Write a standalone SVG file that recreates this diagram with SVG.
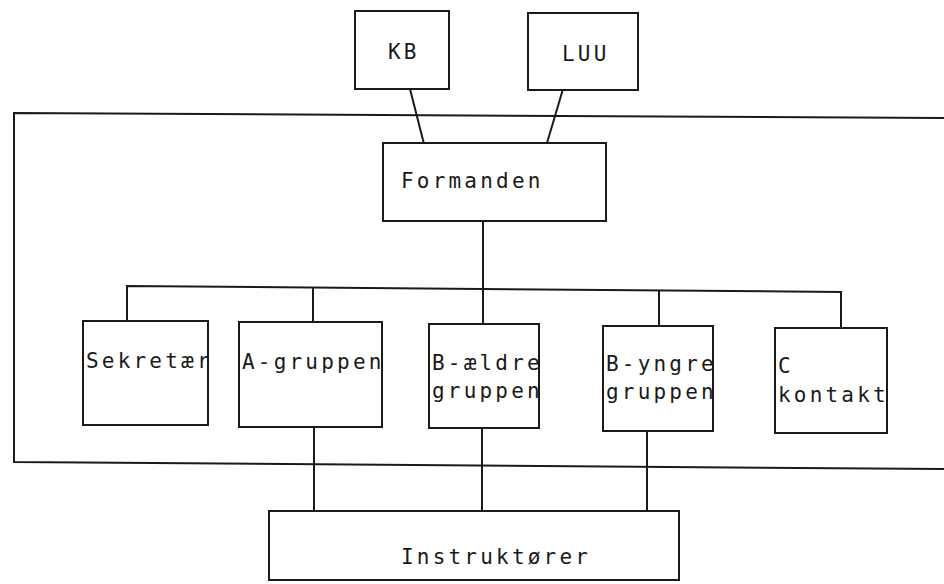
<svg xmlns="http://www.w3.org/2000/svg" width="944" height="584" viewBox="0 0 944 584">
<style>
.b{fill:#fff;stroke:#1a1a1a;stroke-width:2}
.c{fill:none;stroke:#1a1a1a;stroke-width:2}
text{font-family:"DejaVu Sans Mono","Liberation Mono",monospace;font-size:21px;letter-spacing:3.2px;fill:#1a1a1a}
</style>
<rect width="944" height="584" fill="#fff"/>
<g id="frame">
<polyline class="c" points="944,118 14,113 14,462 944,469"/>
</g>
<g id="connectors">
<line class="c" x1="410" y1="89" x2="424" y2="144"/>
<line class="c" x1="563" y1="89" x2="547" y2="143"/>
<line class="c" x1="483" y1="221" x2="483" y2="324"/>
<polyline class="c" points="127,321 127,286 841,292 841,328"/>
<line class="c" x1="313" y1="287" x2="313" y2="322"/>
<line class="c" x1="659" y1="291" x2="659" y2="326"/>
<line class="c" x1="314" y1="427" x2="314" y2="511"/>
<line class="c" x1="482" y1="428" x2="482" y2="513"/>
<line class="c" x1="647" y1="431" x2="647" y2="515"/>
</g>
<g id="kb">
<rect class="b" x="355" y="11" width="94" height="78"/>
<text x="388" y="59">KB</text>
</g>
<g id="luu">
<rect class="b" x="528" y="13" width="110" height="77"/>
<text x="562" y="61">LUU</text>
</g>
<g id="formanden">
<rect class="b" x="383" y="143" width="223" height="78"/>
<text x="401" y="188">Formanden</text>
</g>
<g id="sekretaer">
<rect class="b" x="83" y="321" width="125" height="104"/>
<text x="86" y="368">Sekretær</text>
</g>
<g id="a-gruppen">
<rect class="b" x="239" y="322" width="143" height="105"/>
<text x="242" y="369">A-gruppen</text>
</g>
<g id="b-aeldre">
<rect class="b" x="429" y="324" width="110" height="104"/>
<text x="432" y="370">B-ældre</text>
<text x="432" y="398">gruppen</text>
</g>
<g id="b-yngre">
<rect class="b" x="603" y="326" width="110" height="105"/>
<text x="606" y="371">B-yngre</text>
<text x="606" y="399">gruppen</text>
</g>
<g id="c-kontakt">
<rect class="b" x="775" y="328" width="112" height="105"/>
<text x="778" y="373">C</text>
<text x="778" y="402">kontakt</text>
</g>
<g id="instruktoerer">
<rect class="b" x="269" y="511" width="410" height="69"/>
<text x="401" y="564">Instruktører</text>
</g>
</svg>
